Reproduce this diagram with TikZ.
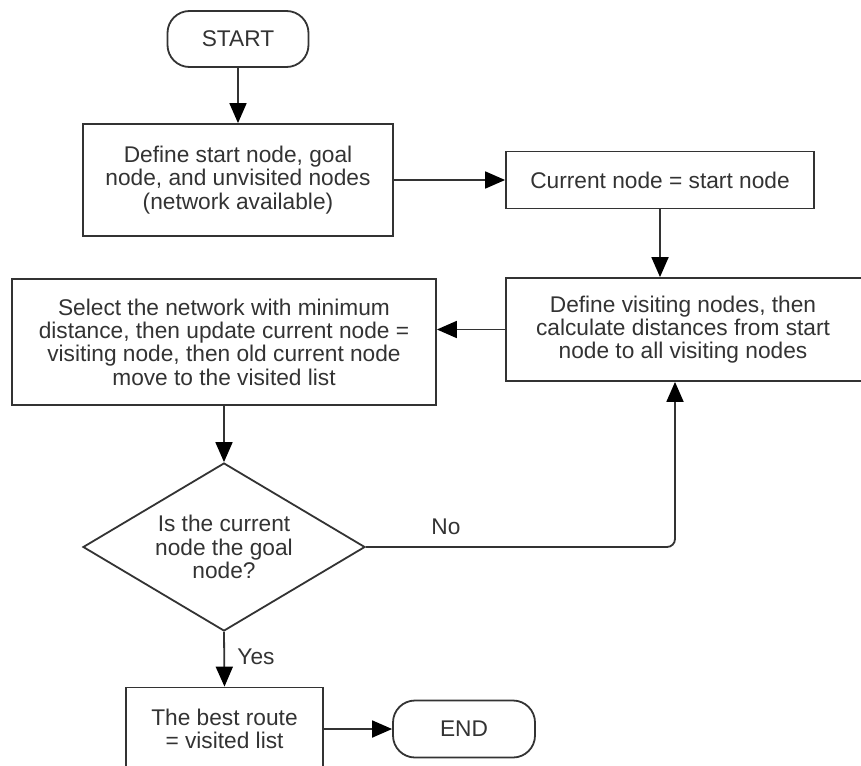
\documentclass[tikz,border=0pt]{standalone}
\usepackage{fontspec}
\setmainfont{Liberation Sans}
\usetikzlibrary{shapes.geometric,arrows.meta}
\definecolor{ink}{HTML}{333333}
\begin{document}
\begin{tikzpicture}[x=1pt,y=-1pt,
  every node/.style={font=\fontsize{22.7pt}{23.3pt}\selectfont, text=ink, inner sep=0pt},
  procbox/.style={draw=ink, line width=1.8pt, rectangle, align=center},
  pill/.style={draw=ink, line width=1.8pt, rectangle, rounded corners=22pt, align=center},
  decide/.style={draw=ink, line width=1.8pt, diamond, align=center},
  conn/.style={draw=ink, line width=1.8pt, -{Triangle[length=20pt,width=17pt,color=black]}},
  lbl/.style={text=ink}
]
\useasboundingbox (0,0) rectangle (861,765);
\fill[white] (0,0) rectangle (861,765);

\node[pill, minimum width=141pt, minimum height=56pt] (start) at (238,39) {START};
\node[procbox, minimum width=310pt, minimum height=112pt] (box1) at (238,180)
  {Define start node, goal\\node, and unvisited nodes\\(network available)};
\node[procbox, minimum width=308pt, minimum height=57pt] (box2) at (660,180)
  {Current node = start node};
\node[procbox, minimum width=364pt, minimum height=103pt] (box3) at (688,329.5) {};
\node[lbl, align=center] (box3text) at (683,329.5)
  {Define visiting nodes, then\\calculate distances from start\\node to all visiting nodes};
\node[procbox, minimum width=424pt, minimum height=126pt] (box4) at (224,342)
  {Select the network with minimum\\distance, then update current node =\\visiting node, then old current node\\move to the visited list};
\node[decide, minimum width=282pt, minimum height=168pt, aspect=1.68] (dia) at (224,547)
  {Is the current\\node the goal\\node?};
\node[procbox, minimum width=197pt, minimum height=83pt] (box5) at (224.5,729)
  {The best route\\= visited list};
\node[pill, minimum width=142pt, minimum height=57pt] (end) at (464,729) {END};

\coordinate (nocorner) at (675,547);

\draw[conn] (start) -- (box1);
\draw[conn] (box1.east) -- (box1.east -| box2.west);
\draw[conn] (box2.south) -- (box2.south |- box3.north);
\draw[conn] (box3.west) -- (box3.west -| box4.east);
\draw[conn] (box4.south) -- (dia.north);
\draw[conn, rounded corners=8pt] (dia.east) -- (nocorner) -- (nocorner |- box3.south);
\draw[conn] (dia.south) -- (box5.north);
\draw[conn] (box5.east) -- (box5.east -| end.west);

\node[lbl] (nolbl) at (446,527) {No};
\node[lbl] (yeslbl) at (256,657) {Yes};
\end{tikzpicture}
\end{document}
